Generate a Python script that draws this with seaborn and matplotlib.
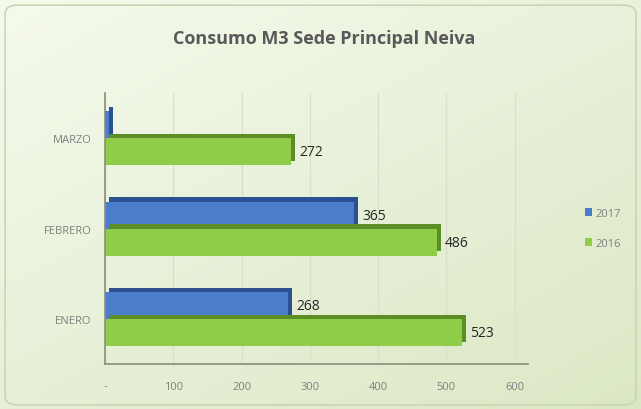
import numpy as np
import pandas as pd
import matplotlib.pyplot as plt
import matplotlib.patheffects as pe
from matplotlib.patches import FancyBboxPatch
import seaborn as sns

# ── Data ──────────────────────────────────────────────
meses = ["MARZO", "FEBRERO", "ENERO"]
consumo_2017 = [6, 365, 268]
consumo_2016 = [272, 486, 523]
anios = ["2017", "2016"]
x_ticks = [0, 100, 200, 300, 400, 500, 600]
x_tick_labels = ["-", "100", "200", "300", "400", "500", "600"]

df = pd.DataFrame({
    "mes": meses * 2,
    "anio": ["2017"] * 3 + ["2016"] * 3,
    "m3": consumo_2017 + consumo_2016,
})

# ── Style ─────────────────────────────────────────────
sns.set_theme(style="white")
plt.rcParams["font.family"] = ["Open Sans", "DejaVu Sans"]

colores = {"2017": "#4a7dcb", "2016": "#8fcd48"}
sombras = {"2017": "#2c5192", "2016": "#5d8d26"}

fig = plt.figure(figsize=(6.41, 4.10), dpi=100)

# background gradient + rounded frame
bg = fig.add_axes([0, 0, 1, 1], zorder=-10)
yy, xx = np.mgrid[0:1:200j, 0:1:200j]
t = 0.55 * yy + 0.45 * xx
c0 = np.array([0.96, 0.98, 0.93])
c1 = np.array([0.86, 0.91, 0.77])
img = c0 * (1 - t[..., None]) + c1 * t[..., None]
bg.imshow(img, extent=[0, 1, 0, 1], aspect="auto", origin="upper")
bg.add_patch(FancyBboxPatch((0.008, 0.01), 0.984, 0.975,
                            boxstyle="round,pad=0,rounding_size=0.02",
                            fill=False, ec="#c9d6b4", lw=1.2))
bg.set_xlim(0, 1)
bg.set_ylim(0, 1)
bg.axis("off")

ax = fig.add_axes([0.164, 0.11, 0.66, 0.66])
ax.patch.set_alpha(0)

sns.barplot(data=df, y="mes", x="m3", hue="anio", order=meses,
            hue_order=anios, orient="h", width=0.6, dodge=True,
            palette=colores, saturation=1, linewidth=0, ax=ax, legend=True)

# fake 3D depth with an offset darker shadow
for cont, anio in zip(ax.containers, anios):
    for bar in cont:
        bar.set_edgecolor("none")
        bar.set_path_effects([
            pe.SimplePatchShadow(offset=(3, 3), shadow_rgbFace=sombras[anio], alpha=1),
            pe.Normal(),
        ])

# value labels
for cont, anio in zip(ax.containers, anios):
    vals = consumo_2017 if anio == "2017" else consumo_2016
    labels = [str(v) if v > 20 else "" for v in vals]
    ax.bar_label(cont, labels=labels, padding=6, fontsize=10, color="#262626")

ax.set_xlim(0, 620)
ax.set_xticks(x_ticks)
ax.set_xticklabels(x_tick_labels, fontsize=8, color="#7f7f7f")
ax.tick_params(axis="y", labelsize=8, labelcolor="#7f7f7f", length=0, pad=10)
ax.tick_params(axis="x", length=0, pad=12)
ax.set_xlabel("")
ax.set_ylabel("")
ax.grid(axis="x", color="#d9dfcc", lw=0.9)
ax.set_axisbelow(True)

for s in ["top", "right"]:
    ax.spines[s].set_visible(False)
for s in ["left", "bottom"]:
    ax.spines[s].set_color("#8c8c7a")
    ax.spines[s].set_linewidth(1.2)

leg = ax.legend(loc="center left", bbox_to_anchor=(1.11, 0.5), frameon=False,
                fontsize=8, handlelength=0.7, handleheight=0.7,
                handletextpad=0.3, labelspacing=1.7)
for txt in leg.get_texts():
    txt.set_color("#7f7f7f")

fig.text(0.505, 0.905, "Consumo M3 Sede Principal Neiva", ha="center", va="center",
         fontsize=13, fontweight="bold", color="#595959")

fig.savefig("out.png", dpi=100)
